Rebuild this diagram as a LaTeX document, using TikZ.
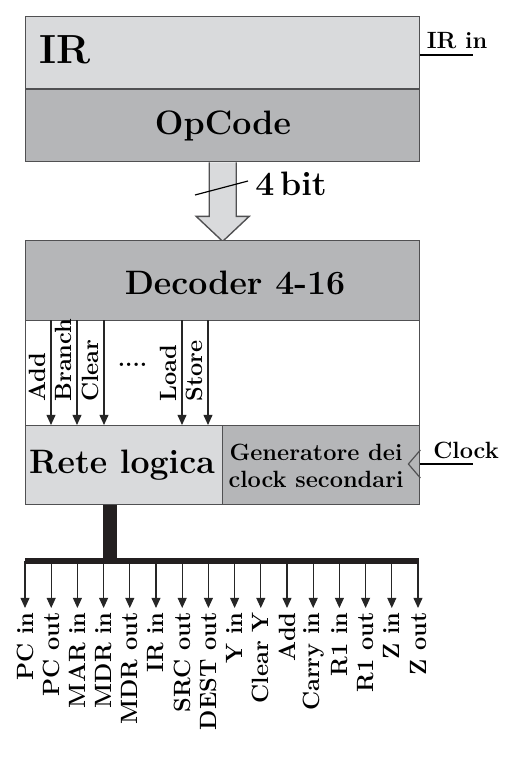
\documentclass[tikz,border=0pt]{standalone}
\usepackage{xcolor}
\usetikzlibrary{arrows.meta}
\definecolor{lightbox}{RGB}{217,218,220}
\definecolor{darkbox}{RGB}{181,182,184}
\definecolor{edgegray}{RGB}{80,80,82}
\definecolor{busblack}{RGB}{35,31,32}
\def\unitpx{0.51pt}
\tikzset{
  blk/.style={draw=edgegray, line width=0.7pt, inner sep=0pt, anchor=north west},
  sig/.style={-{Triangle[length=5.2pt,width=4.6pt]}, line width=0.6pt, draw=black!85},
  txt/.style={inner sep=0pt, font=\bfseries\large},
  bigtxt/.style={inner sep=0pt, font=\bfseries\LARGE},
  outlbl/.style={rotate=90, anchor=east, inner sep=2pt, font=\bfseries\large},
  inlbl/.style={rotate=90, anchor=base west, inner sep=0pt, font=\bfseries\large}
}

\begin{document}
\begin{tikzpicture}[x=\unitpx, y=-\unitpx]
\useasboundingbox (0,0) rectangle (525,758);
% IR register
\node[blk, fill=lightbox, minimum width=394*\unitpx, minimum height=72.5*\unitpx] (ir) at (25,16) {};
\node[blk, fill=darkbox, minimum width=394*\unitpx, minimum height=72.5*\unitpx] (opc) at (25,88.5) {};
\node[inner sep=0pt, font=\bfseries\huge, anchor=base west] (irtxt) at (39,64) {IR};
\node[bigtxt] (opctxt) at (223,126) {OpCode};
\coordinate (irinend) at (473,55);
\draw[line width=0.6pt] (ir.east |- irinend) -- (irinend);
\node[txt, anchor=base] (irin) at (457,49) {IR in};
% 4 bit bus
\draw[draw=edgegray, line width=0.7pt, fill=lightbox] (opc.south) ++(-13.5,0) -- ++(0,54) -- ++(-13,0)
  -- ++(26.5,25) -- ++(26.5,-25) -- ++(-13,0) -- ++(0,-54);
\coordinate (sl) at (195,195);
\draw[line width=0.6pt] (sl) -- ++(53,-14);
\node[bigtxt, anchor=base west] (bits) at (255,195) {4\,bit};
% decoder
\node[blk, fill=darkbox, minimum width=394*\unitpx, minimum height=80*\unitpx] (dec) at (25,240) {};
\node[bigtxt] (dectxt) at (235,283) {Decoder 4-16};
\node[blk, fill=white, minimum width=394*\unitpx, minimum height=105*\unitpx] (sigs) at (25,320) {};
\node[blk, fill=lightbox, minimum width=197*\unitpx, minimum height=79*\unitpx] (rete) at (25,425) {};
\node[blk, fill=darkbox, minimum width=197*\unitpx, minimum height=79*\unitpx] (gen) at (222,425) {};
\node[bigtxt] (retetxt) at (122,465) {Rete logica};
\node[txt, align=center] (gentxt) at (316,466) {Generatore dei\\clock secondari};
% instruction lines
\foreach \x/\t in {51/Add, 77/Branch, 104/Clear, 182/Load, 208/Store} {
  \coordinate (t\x) at (\x,320);
  \draw[sig] (t\x) -- (t\x |- rete.north);
  \node[inlbl] (n\x) at (\x-6,402) {\t};
}
\node[txt, anchor=base] (dots) at (132.5,366) {....};
% clock
\coordinate (clkend) at (473,464);
\draw[line width=0.6pt] (gen.east |- clkend) -- (clkend);
\draw[draw=edgegray, line width=0.6pt] (gen.east |- clkend) ++(0,-14) -- ++(-12,14) -- ++(12,14);
\node[txt, anchor=base] (clk) at (466,458) {Clock};
% control signals
\foreach \t [count=\i from 0] in {PC in, PC out, MAR in, MDR in, MDR out, IR in, SRC out, DEST out,
    Y in, Clear Y, Add, Carry in, R1 in, R1 out, Z in, Z out} {
  \coordinate (o\i) at ({25+26.2*\i},561);
  \node[outlbl] (l\i) at ({25+26.2*\i},608) {\t};
  \draw[sig] (o\i) -- (l\i.east);
}
\coordinate (busjoin) at (110,561);
\coordinate (busl) at (25,561);
\coordinate (busr) at (419,561);
\draw[busblack, line width=7.2pt] (rete.south -| busjoin) -- ([yshift=1]busjoin);
\draw[busblack, line width=3.4pt] (busl) -- (busr);
\end{tikzpicture}
\end{document}
